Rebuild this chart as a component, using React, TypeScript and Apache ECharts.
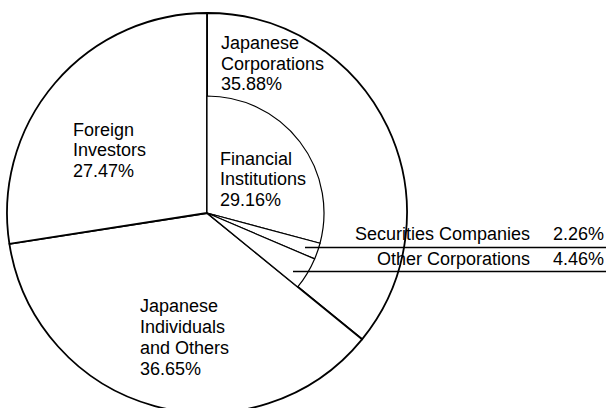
import React, { useEffect, useRef } from "react";
import * as echarts from "echarts";

const outerNames = ["Japanese Corporations", "Japanese Individuals and Others", "Foreign Investors"];
const outerValues = [35.88, 36.65, 27.47];

const innerNames = ["Financial Institutions", "Securities Companies", "Other Corporations"];
const innerValues = [29.16, 2.26, 4.46];

const FONT = "'Liberation Sans', Arial, Helvetica, sans-serif";

export default function App() {
  const ref = useRef<HTMLDivElement>(null);

  useEffect(() => {
    document.body.style.margin = "0";
    const chart = echarts.init(ref.current!, undefined, { renderer: "svg" });

    const outerTotal = outerValues.reduce((a, b) => a + b, 0);
    const innerSum = innerValues.reduce((a, b) => a + b, 0);

    const center = [207, 213];

    const textStyle = (text: string, lh = 20.5, align = "left") => ({
      text,
      font: `18px ${FONT}`,
      fill: "#000",
      lineHeight: lh,
      align,
      verticalAlign: "top",
    });

    const option: any = {
      animation: false,
      backgroundColor: "#fff",
      series: [
        {
          type: "pie",
          silent: true,
          center,
          radius: [0, 200],
          startAngle: 90,
          clockwise: true,
          avoidLabelOverlap: false,
          label: { show: false },
          labelLine: { show: false },
          emphasis: { disabled: true },
          itemStyle: { color: "#fff", borderColor: "#000", borderWidth: 1.8 },
          data: outerNames.map((n, i) => ({ name: n, value: outerValues[i] })),
          z: 1,
        },
        {
          type: "pie",
          silent: true,
          center,
          radius: [0, 117],
          startAngle: 90,
          clockwise: true,
          avoidLabelOverlap: false,
          label: { show: false },
          labelLine: { show: false },
          emphasis: { disabled: true },
          itemStyle: { color: "#fff", borderColor: "#000", borderWidth: 1.2 },
          data: [
            ...innerNames.map((n, i) => ({ name: n, value: innerValues[i] })),
            {
              name: "rest",
              value: outerTotal - innerSum,
              itemStyle: { color: "rgba(0,0,0,0)", borderWidth: 0 },
            },
          ],
          z: 2,
        },
      ],
      graphic: [
        { type: "text", x: 221, y: 33, z: 10, style: textStyle("Japanese\nCorporations\n35.88%") },
        { type: "text", x: 220, y: 148.5, z: 10, style: textStyle("Financial\nInstitutions\n29.16%") },
        { type: "text", x: 73, y: 119.5, z: 10, style: textStyle("Foreign\nInvestors\n27.47%") },
        { type: "text", x: 140, y: 295, z: 10, style: textStyle("Japanese\nIndividuals\nand Others\n36.65%", 21) },
        { type: "text", x: 530, y: 223.5, z: 10, style: textStyle("Securities Companies", 20.5, "right") },
        { type: "text", x: 604, y: 223.5, z: 10, style: textStyle("2.26%", 20.5, "right") },
        { type: "text", x: 530, y: 248.5, z: 10, style: textStyle("Other Corporations", 20.5, "right") },
        { type: "text", x: 604, y: 248.5, z: 10, style: textStyle("4.46%", 20.5, "right") },
        {
          type: "line",
          z: 10,
          shape: { x1: 305, y1: 247.5, x2: 606, y2: 247.5 },
          style: { stroke: "#000", lineWidth: 1.5 },
        },
        {
          type: "line",
          z: 10,
          shape: { x1: 293, y1: 271.5, x2: 606, y2: 271.5 },
          style: { stroke: "#000", lineWidth: 1.5 },
        },
      ],
    };

    chart.setOption(option);
    return () => chart.dispose();
  }, []);

  return (
    <div
      ref={ref}
      style={{ position: "absolute", left: 0, top: 0, width: 608, height: 408, background: "#fff" }}
    />
  );
}
